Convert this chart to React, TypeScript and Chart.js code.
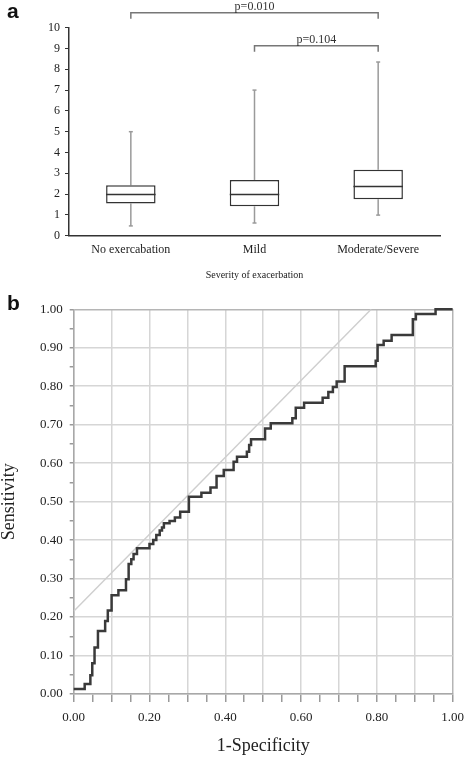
import React, { useEffect, useRef } from "react";
import { Chart, registerables } from "chart.js";

Chart.register(...registerables);

// ---------- Panel a: box plot ----------
const categories = ["No exercabation", "Mild", "Moderate/Severe"];
const whiskerLow = [0.47, 0.61, 0.99];
const q1 = [1.55, 1.41, 1.75];
const median = [1.98, 1.98, 2.36];
const q3 = [2.42, 2.68, 3.17];
const whiskerHigh = [5.0, 7.0, 8.35];
const yMinA = 0;
const yMaxA = 10;
const yStepA = 1;
const xTitleA = "Severity of exacerbation";

const bracketFrom = [0, 1];
const bracketTo = [2, 2];
const bracketY = [10.72, 9.13];
const bracketLabels = ["p=0.010", "p=0.104"];

// ---------- Panel b: ROC curve ----------
const rocX = [
  0, 0.029, 0.044, 0.049, 0.055, 0.064, 0.083, 0.09, 0.1, 0.118, 0.138, 0.145,
  0.152, 0.158, 0.167, 0.2, 0.21, 0.218, 0.227, 0.233, 0.238, 0.253, 0.267,
  0.281, 0.304, 0.337, 0.361, 0.377, 0.396, 0.422, 0.431, 0.457, 0.463, 0.468,
  0.505, 0.52, 0.577, 0.586, 0.608, 0.657, 0.672, 0.684, 0.694, 0.715, 0.797,
  0.802, 0.818, 0.839, 0.895, 0.903, 0.955, 1.0,
];
const rocY = [
  0.013, 0.026, 0.049, 0.08, 0.121, 0.164, 0.19, 0.217, 0.257, 0.27, 0.298,
  0.338, 0.35, 0.364, 0.379, 0.39, 0.4, 0.413, 0.425, 0.433, 0.444, 0.45, 0.459,
  0.474, 0.513, 0.523, 0.537, 0.567, 0.582, 0.604, 0.617, 0.63, 0.647, 0.662,
  0.69, 0.704, 0.717, 0.744, 0.757, 0.77, 0.785, 0.798, 0.812, 0.852, 0.866,
  0.907, 0.918, 0.933, 0.974, 0.988, 1.0, 1.0,
];
const refLineX = [0, 0.785];
const refLineY = [0.215, 1.0];
const xTitleB = "1-Specificity";
const yTitleB = "Sensitivity";

const SERIF = '"Liberation Serif", "Times New Roman", serif';
const SANS = '"Liberation Sans", Arial, sans-serif';

const panelLabel = (text: string, x: number, y: number) => ({
  id: "panelLabel" + text,
  afterDraw(chart: any) {
    const ctx = chart.ctx;
    ctx.save();
    ctx.font = `bold 21px ${SANS}`;
    ctx.fillStyle = "#111";
    ctx.textAlign = "left";
    ctx.textBaseline = "alphabetic";
    ctx.fillText(text, x, y);
    ctx.restore();
  },
});

const boxPlugin = {
  id: "boxParts",
  beforeDatasetsDraw(chart: any) {
    const ctx = chart.ctx;
    const xs = chart.scales.x;
    const ys = chart.scales.y;
    ctx.save();
    ctx.strokeStyle = "#9a9a9a";
    ctx.lineWidth = 1.5;
    categories.forEach((_, i) => {
      const x = xs.getPixelForValue(i);
      const segs = [
        [whiskerHigh[i], q3[i]],
        [q1[i], whiskerLow[i]],
      ];
      segs.forEach(([a, b]) => {
        ctx.beginPath();
        ctx.moveTo(x, ys.getPixelForValue(a));
        ctx.lineTo(x, ys.getPixelForValue(b));
        ctx.stroke();
      });
      [whiskerHigh[i], whiskerLow[i]].forEach((v) => {
        const y = ys.getPixelForValue(v);
        ctx.beginPath();
        ctx.moveTo(x - 2, y);
        ctx.lineTo(x + 2, y);
        ctx.stroke();
      });
    });
    ctx.restore();
  },
  afterDatasetsDraw(chart: any) {
    const ctx = chart.ctx;
    const ys = chart.scales.y;
    const meta = chart.getDatasetMeta(0);
    ctx.save();
    ctx.strokeStyle = "#333";
    ctx.lineWidth = 1.5;
    meta.data.forEach((bar: any, i: number) => {
      const y = ys.getPixelForValue(median[i]);
      ctx.beginPath();
      ctx.moveTo(bar.x - bar.width / 2, y);
      ctx.lineTo(bar.x + bar.width / 2, y);
      ctx.stroke();
    });
    ctx.restore();
  },
  afterDraw(chart: any) {
    const ctx = chart.ctx;
    const xs = chart.scales.x;
    const ys = chart.scales.y;
    ctx.save();
    ctx.strokeStyle = "#777";
    ctx.lineWidth = 1.5;
    ctx.fillStyle = "#333";
    ctx.font = `12px ${SERIF}`;
    ctx.textAlign = "center";
    ctx.textBaseline = "alphabetic";
    bracketLabels.forEach((lab, i) => {
      const x1 = xs.getPixelForValue(bracketFrom[i]);
      const x2 = xs.getPixelForValue(bracketTo[i]);
      const y = ys.getPixelForValue(bracketY[i]);
      ctx.beginPath();
      ctx.moveTo(x1, y + 6);
      ctx.lineTo(x1, y);
      ctx.lineTo(x2, y);
      ctx.lineTo(x2, y + 6);
      ctx.stroke();
      ctx.fillText(lab, (x1 + x2) / 2, y - 3);
    });
    ctx.restore();
  },
};

const isTenth = (v: number) => Math.round(v * 100) % 10 === 0;

function BoxChart() {
  const ref = useRef<HTMLCanvasElement>(null);
  useEffect(() => {
    const chart = new Chart(ref.current as HTMLCanvasElement, {
      type: "bar",
      data: {
        labels: categories,
        datasets: [
          {
            data: q1.map((v, i) => [v, q3[i]]) as any,
            backgroundColor: "#ffffff",
            borderColor: "#333333",
            borderWidth: 1.5,
            borderSkipped: false,
            barPercentage: 0.4,
            categoryPercentage: 1,
          },
        ],
      },
      options: {
        responsive: false,
        animation: false,
        devicePixelRatio: 1,
        layout: { padding: { top: 27.7, right: 32, left: 0, bottom: 0 } },
        plugins: { legend: { display: false }, tooltip: { enabled: false } },
        scales: {
          x: {
            grid: { display: false, drawTicks: false, tickLength: 0 },
            border: { display: true, color: "#333", width: 1.5 },
            ticks: { font: { family: SERIF, size: 12 }, color: "#222", padding: 7 },
            title: {
              display: true,
              text: xTitleA,
              font: { family: SERIF, size: 10, lineHeight: 1.2 },
              color: "#222",
              padding: { top: 0, bottom: 9 },
            },
            afterFit: (s: any) => {
              s.height = 54.3;
            },
          },
          y: {
            min: yMinA,
            max: yMaxA,
            ticks: { stepSize: yStepA, font: { family: SERIF, size: 12 }, color: "#222", padding: 5 },
            grid: { drawOnChartArea: false, tickLength: 4, tickColor: "#333", lineWidth: 1 },
            border: { color: "#333", width: 1.5 },
            afterFit: (s: any) => {
              s.width = 69;
            },
          },
        },
      },
      plugins: [boxPlugin, panelLabel("a", 7, 18.3)],
    });
    return () => chart.destroy();
  }, []);
  return (
    <canvas
      ref={ref}
      width={472}
      height={290}
      style={{ position: "absolute", left: 0, top: 0, width: 472, height: 290 }}
    />
  );
}

function RocChart() {
  const ref = useRef<HTMLCanvasElement>(null);
  useEffect(() => {
    const gridColor = (c: any) => {
      const v = c.tick ? c.tick.value : 0;
      if (Math.abs(v - 1) < 1e-6) return "#b5b5b5";
      return isTenth(v) ? "#d6d6d6" : "rgba(0,0,0,0)";
    };
    const chart = new Chart(ref.current as HTMLCanvasElement, {
      type: "line",
      data: {
        datasets: [
          {
            data: rocX.map((x, i) => ({ x, y: rocY[i] })),
            borderColor: "#3a3a3a",
            borderWidth: 2.5,
            stepped: "before",
            pointRadius: 0,
            fill: false,
            clip: 6,
            order: 0,
          },
          {
            data: refLineX.map((x, i) => ({ x, y: refLineY[i] })),
            borderColor: "#cfcfcf",
            borderWidth: 1.5,
            pointRadius: 0,
            fill: false,
            order: 1,
          },
        ],
      },
      options: {
        responsive: false,
        animation: false,
        devicePixelRatio: 1,
        layout: { padding: { top: 19.3, right: 10.7, left: 0, bottom: 0 } },
        plugins: { legend: { display: false }, tooltip: { enabled: false } },
        scales: {
          x: {
            type: "linear",
            min: 0,
            max: 1,
            ticks: {
              stepSize: 0.05,
              autoSkip: false,
              maxRotation: 0,
              font: { family: SERIF, size: 13 },
              color: "#222",
              padding: 8,
              callback: (v: any) => (Math.round(Number(v) * 100) % 20 === 0 ? Number(v).toFixed(2) : ""),
            },
            grid: { color: gridColor, tickColor: "#9a9a9a", tickLength: 8, lineWidth: 1.5 },
            border: { color: "#a8a8a8", width: 1.5 },
            title: {
              display: true,
              text: xTitleB,
              font: { family: SERIF, size: 18, lineHeight: 1.2 },
              color: "#222",
              padding: { top: 0, bottom: 0 },
            },
            afterFit: (s: any) => {
              s.height = 63;
            },
          },
          y: {
            type: "linear",
            min: 0,
            max: 1,
            ticks: {
              stepSize: 0.05,
              autoSkip: false,
              font: { family: SERIF, size: 13 },
              color: "#222",
              padding: 7,
              callback: (v: any) => (isTenth(Number(v)) ? Number(v).toFixed(2) : ""),
            },
            grid: { color: gridColor, tickColor: "#9a9a9a", tickLength: 4, lineWidth: 1.5 },
            border: { color: "#a8a8a8", width: 1.5 },
            title: {
              display: true,
              text: yTitleB,
              font: { family: SERIF, size: 18, lineHeight: 1 },
              color: "#222",
              padding: { top: 0, bottom: 0 },
            },
            afterFit: (s: any) => {
              s.width = 73.7;
            },
          },
        },
      },
      plugins: [panelLabel("b", 7, 20)],
    });
    return () => chart.destroy();
  }, []);
  return (
    <canvas
      ref={ref}
      width={472}
      height={467}
      style={{ position: "absolute", left: 0, top: 290, width: 472, height: 467 }}
    />
  );
}

export default function App() {
  return (
    <div
      style={{
        position: "absolute",
        left: 0,
        top: 0,
        width: 472,
        height: 757,
        background: "#ffffff",
        overflow: "hidden",
      }}
    >
      <BoxChart />
      <RocChart />
    </div>
  );
}
